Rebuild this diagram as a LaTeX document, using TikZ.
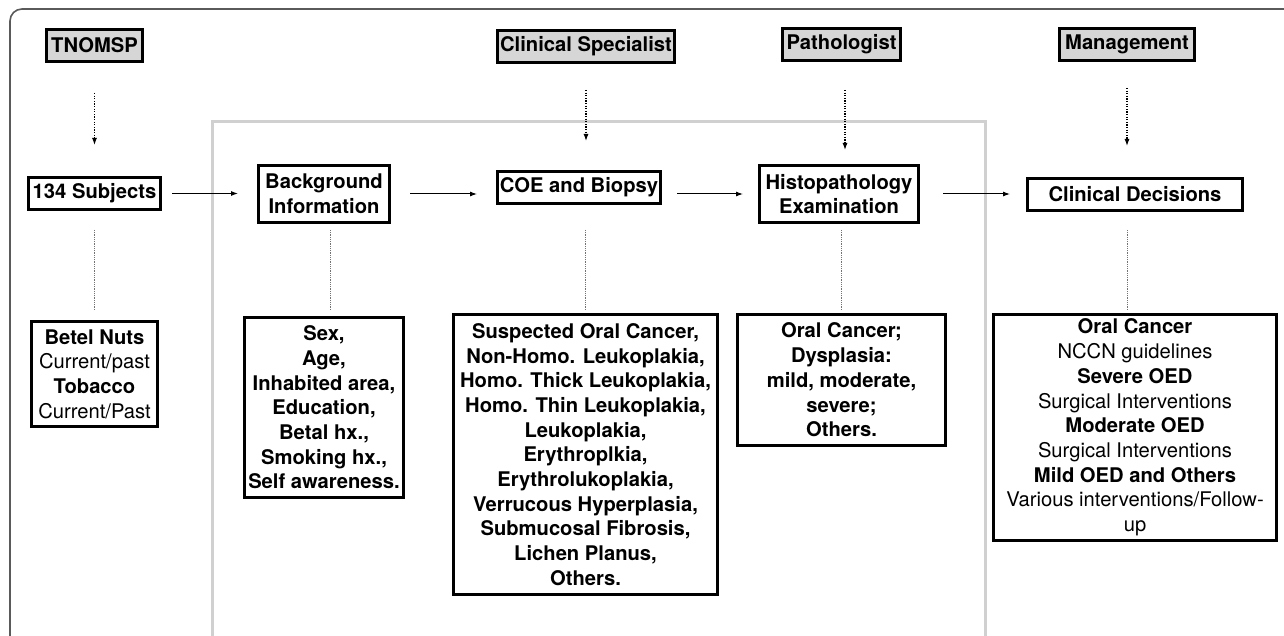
\documentclass[tikz,border=0pt]{standalone}
\usepackage{fontspec}
\setmainfont{TeX Gyre Heros}
\usetikzlibrary{arrows.meta}
\definecolor{hdrgray}{HTML}{D6D6D6}
\definecolor{framegray}{HTML}{D0D0D0}
\definecolor{outergray}{HTML}{5A5A5A}
\begin{document}
\begin{tikzpicture}[x=1pt,y=-1pt,
  hdr/.style={draw=black, line width=3pt, fill=hdrgray, inner sep=0pt, align=center,
    font=\bfseries\fontsize{20.2}{24.7}\selectfont},
  box/.style={draw=black, line width=3pt, fill=white, inner sep=0pt, align=center,
    font=\bfseries\fontsize{20.2}{24.7}\selectfont},
  flow/.style={-{Latex[length=7pt,width=5pt]}, line width=1pt},
  dotarrow/.style={dash pattern=on 1.2pt off 1.4pt, line width=1.2pt, -{Latex[length=7pt,width=5pt]}},
  fine/.style={dash pattern=on 0.9pt off 0.9pt, line width=0.9pt, black!55},
]
\useasboundingbox (0,0) rectangle (1284,636);
\clip (0,0) rectangle (1284,636);

% outer frame
\draw[rounded corners=12pt, line width=1.6pt, outergray] (10,660) -- (10,9) -- (1310,9);
% inner gray frame
\draw[line width=3pt, framegray] (212,660) -- (212,122) -- (985,122) -- (985,660);

% headers
\node[hdr, minimum width=96pt, minimum height=32pt] (tno) at (94.5,45.5) {TNOMSP};
\node[hdr, minimum width=177pt, minimum height=32pt] (spec) at (586,46.5) {Clinical Specialist};
\node[hdr, minimum width=118pt, minimum height=32pt] (path) at (841.5,44.5) {Pathologist};
\node[hdr, minimum width=135pt, minimum height=32pt] (mgmt) at (1127,44.5) {Management};

% main row
\node[box, minimum width=132pt, minimum height=32pt] (subj) at (94.5,193.5) {134 Subjects};
\node[box, minimum width=131pt, minimum height=57pt] (bg) at (324,194) {Background\\Information};
\node[box, minimum width=163pt, minimum height=32pt] (coe) at (579,187.5) {COE and Biopsy};
\node[box, minimum width=159pt, minimum height=57pt] (histo) at (839,194) {Histopathology\\Examination};
\node[box, minimum width=215pt, minimum height=32pt] (cd) at (1135,194.5) {Clinical Decisions};

% detail boxes
\node[box, minimum width=126pt, minimum height=105pt] (betel) at (94.5,374)
  {Betel Nuts\\\textmd{Current/past}\\Tobacco\\\textmd{Current/Past}};
\node[box, minimum width=159pt, minimum height=180pt] (sex) at (324,407.5)
  {Sex,\\Age,\\Inhabited area,\\Education,\\Betal hx.,\\Smoking hx.,\\Self awareness.};
\node[box, minimum width=264pt, minimum height=280pt] (susp) at (585.5,454.5)
  {Suspected Oral Cancer,\\Non-Homo. Leukoplakia,\\Homo. Thick Leukoplakia,\\Homo. Thin Leukoplakia,\\Leukoplakia,\\Erythroplkia,\\Erythrolukoplakia,\\Verrucous Hyperplasia,\\Submucosal Fibrosis,\\Lichen Planus,\\Others.};
\node[box, minimum width=208pt, minimum height=131pt] (dys) at (841.5,380)
  {Oral Cancer;\\Dysplasia:\\mild, moderate,\\severe;\\Others.};
\node[box, minimum width=283pt, minimum height=226pt] (mg) at (1135,427.5)
  {Oral Cancer\\\textmd{NCCN guidelines}\\Severe OED\\\textmd{Surgical Interventions}\\Moderate OED\\\textmd{Surgical Interventions}\\Mild OED and Others\\\textmd{Various interventions/Follow-}\\\textmd{up}};

% dotted arrows from headers
\draw[dotarrow, shorten <=30pt, shorten >=31pt] (tno.south) -- (subj.north);
\draw[dotarrow, shorten <=26pt, shorten >=29pt] (spec.south) -- (spec.south |- coe.north);
\draw[dotarrow, shorten <=28pt, shorten >=14pt] ([xshift=3.5pt]path.south) -- ([xshift=3.5pt]path.south |- histo.north);
\draw[dotarrow, shorten <=26pt, shorten >=31pt] (mgmt.south) -- (mgmt.south |- cd.north);

% flow arrows
\draw[flow, shorten <=10pt, shorten >=19pt] (subj.east) -- (subj.east -| bg.west);
\draw[flow, shorten <=19pt, shorten >=19pt] (bg.east) -- (bg.east -| coe.west);
\draw[flow, shorten <=15pt, shorten >=15pt] (histo.west -| coe.east) -- (histo.west);
\draw[flow, shorten <=23pt, shorten >=16pt] (histo.east) -- (histo.east -| cd.west);

% fine dotted links to detail boxes
\draw[fine, shorten <=19pt, shorten >=10pt] (subj.south) -- (betel.north);
\draw[fine, shorten <=6pt, shorten >=6pt] ([xshift=6pt]bg.south) -- ([xshift=6pt]sex.north);
\draw[fine, shorten <=25pt, shorten >=3pt] ([xshift=6.5pt]coe.south) -- (susp.north);
\draw[fine, shorten <=6pt, shorten >=3pt] ([xshift=2.5pt]histo.south) -- (dys.north);
\draw[fine, shorten <=18pt, shorten >=3pt] ([xshift=-8pt]cd.south) -- ([xshift=-8pt]mg.north);
\end{tikzpicture}
\end{document}
